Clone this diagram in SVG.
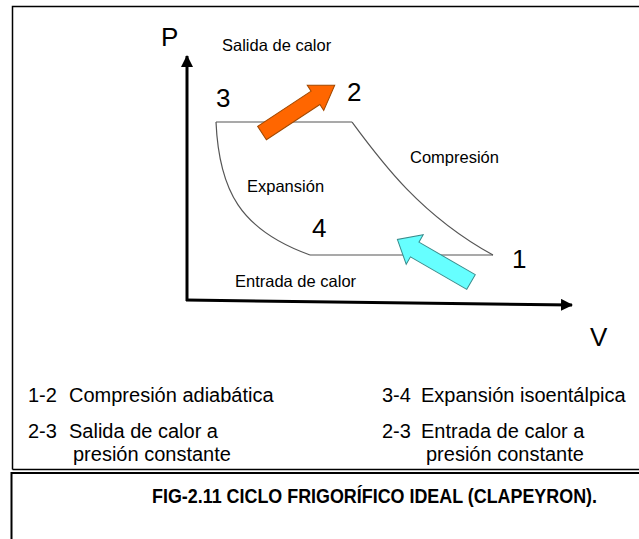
<svg xmlns="http://www.w3.org/2000/svg" width="639" height="539" viewBox="0 0 639 539">
<style>
text{font-family:"Liberation Sans",Arial,sans-serif;fill:#000}
.lbl{font-size:16.5px}
.num{font-size:26px}
.leg{font-size:20px}
.ttl{font-size:19.5px;font-weight:bold}
.frame{fill:none;stroke:#000;stroke-width:1.5}
.axis{fill:none;stroke:#000;stroke-width:3}
.curve{fill:none;stroke:#555;stroke-width:1.2}
</style>
<defs>
<marker id="ah" viewBox="0 0 12 12" refX="11" refY="6" markerWidth="12" markerHeight="12" markerUnits="userSpaceOnUse" orient="auto"><path d="M0,0 L12,6 L0,12 Z" fill="#000"/></marker>
</defs>
<rect width="639" height="539" fill="#fff"/>
<g id="frame">
<path class="frame" d="M12.5,469.5 V6.5 H639"/>
<path class="frame" d="M12.5,469.5 H639"/>
<path class="frame" d="M11.5,539 V473 H639" style="stroke-width:2"/>
</g>
<g id="connectors">
<path class="axis" d="M187,301 V56" marker-end="url(#ah)"/>
<path class="axis" d="M186,300 L572,305" marker-end="url(#ah)"/>
<path class="curve" d="M216,122 H352"/>
<path class="curve" d="M352,122 C380,160 420,215 493,255"/>
<path class="curve" d="M216,122 C219,190 240,230 310,255"/>
<path class="curve" d="M310,255 H493"/>
</g>
<g id="arrow-out">
<polygon transform="translate(262,133) rotate(-33.3)" points="0,-8 64,-8 64,-15 87,0 64,15 64,8 0,8" fill="#ff6600" stroke="#a04800" stroke-width="1"/>
</g>
<g id="arrow-in">
<polygon transform="translate(471,282) rotate(-150)" points="0,-8.5 65,-8.5 65,-17 85,0 65,17 65,8.5 0,8.5" fill="#66ffff" stroke="#3a8c8c" stroke-width="1"/>
</g>
<g id="labels">
<text class="num" x="161" y="46">P</text>
<text class="num" x="590" y="346">V</text>
<text class="lbl" x="222" y="51">Salida de calor</text>
<text class="num" x="216" y="107">3</text>
<text class="num" x="347" y="101">2</text>
<text class="lbl" x="410" y="163">Compresión</text>
<text class="lbl" x="247" y="192">Expansión</text>
<text class="num" x="312" y="237">4</text>
<text class="num" x="512" y="268">1</text>
<text class="lbl" x="235" y="287">Entrada de calor</text>
</g>
<g id="legend">
<text class="leg" y="402"><tspan x="28">1-2</tspan><tspan x="69">Compresión adiabática</tspan></text>
<text class="leg" y="402"><tspan x="382">3-4</tspan><tspan x="421">Expansión isoentálpica</tspan></text>
<text class="leg" y="438"><tspan x="28">2-3</tspan><tspan x="69">Salida de calor a</tspan></text>
<text class="leg" x="73" y="461">presión constante</text>
<text class="leg" y="438"><tspan x="382">2-3</tspan><tspan x="421">Entrada de calor a</tspan></text>
<text class="leg" x="426" y="461">presión constante</text>
<text class="ttl" x="152" y="503" textLength="445" lengthAdjust="spacingAndGlyphs">FIG-2.11 CICLO FRIGORÍFICO IDEAL (CLAPEYRON).</text>
</g>
</svg>
